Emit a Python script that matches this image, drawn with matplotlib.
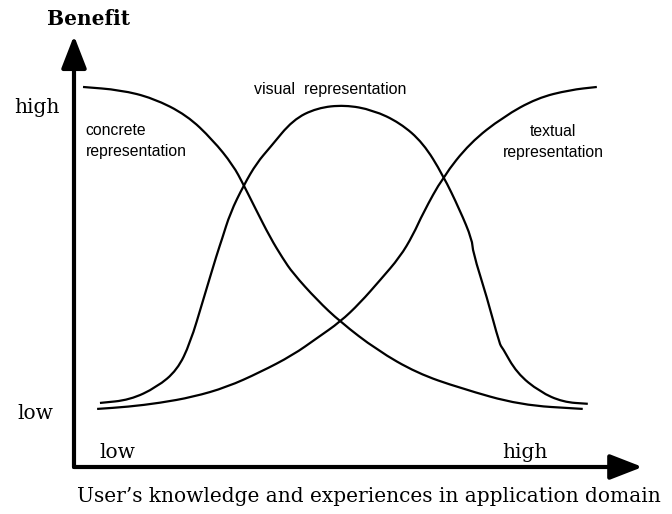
import matplotlib
matplotlib.use("Agg")
from matplotlib import pyplot as plt
from matplotlib.path import Path
from matplotlib.patches import PathPatch

# points (knowledge 0-100, benefit 0-100)
concrete_x = [1.6, 8.2, 14.0, 20.0, 24.6, 28.2, 30.1, 32.1, 34.8, 37.0, 38.8, 43.1,
              47.2, 53.7, 60.8, 68.4, 79.1, 90.2]
concrete_y = [89.0, 88.3, 86.4, 82.4, 76.6, 70.7, 66.0, 60.7, 53.7, 48.9, 45.4, 39.1,
              34.0, 27.4, 22.0, 18.5, 14.5, 13.6]

textual_x = [4.1, 9.6, 15.2, 21.1, 27.1, 33.0, 38.8, 43.1, 47.2, 50.7, 54.3, 57.8,
             60.1, 61.9, 65.4, 70.2, 76.1, 82.1, 87.9, 92.7]
textual_y = [13.6, 14.1, 15.0, 16.4, 18.7, 22.2, 26.2, 30.2, 34.0, 38.4, 43.8, 49.2,
             54.3, 59.5, 67.9, 75.9, 82.0, 86.4, 88.3, 89.0]

visual_x = [4.6, 9.9, 14.7, 18.3, 20.6, 22.9, 25.4, 26.2, 27.7, 30.1, 32.4, 34.8,
            38.8, 43.1, 48.0, 53.0, 57.8, 61.9, 65.4, 68.4, 70.6, 70.7, 73.2, 75.5,
            75.9, 78.5, 82.6, 86.7, 91.1]
visual_y = [15.0, 15.7, 18.7, 22.7, 29.0, 39.1, 50.1, 53.2, 59.5, 66.0, 71.2, 74.9,
            81.3, 84.1, 84.8, 83.6, 80.6, 75.9, 68.4, 60.2, 53.2, 50.4, 39.8, 28.6,
            28.1, 22.0, 17.6, 15.2, 14.8]


def smooth_path(xs, ys):
    # quadratic bezier through the midpoints, read points act as control points
    pts = list(zip(xs, ys))
    mids = [((a[0] + b[0]) / 2, (a[1] + b[1]) / 2) for a, b in zip(pts[:-1], pts[1:])]
    verts = [pts[0], mids[0]]
    codes = [Path.MOVETO, Path.LINETO]
    for p, m in zip(pts[1:-1], mids[1:]):
        verts += [p, m]
        codes += [Path.CURVE3, Path.CURVE3]
    verts.append(pts[-1])
    codes.append(Path.LINETO)
    return Path(verts, codes)


fig = plt.figure(figsize=(6.72, 5.14), dpi=100)
ax = fig.add_axes([74 / 672, 47 / 514, 564 / 672, 427 / 514])
ax.set_xlim(0, 100)
ax.set_ylim(0, 100)
ax.axis("off")

for xs, ys in [(concrete_x, concrete_y), (textual_x, textual_y), (visual_x, visual_y)]:
    ax.add_patch(PathPatch(smooth_path(xs, ys), facecolor="none", edgecolor="black",
                           lw=1.6, capstyle="butt", joinstyle="round"))

arrow = dict(arrowstyle="-|>,head_length=0.9,head_width=0.35", lw=3, color="black",
             mutation_scale=22, shrinkA=0, shrinkB=0)
ax.annotate("", xy=(0, 1.01), xytext=(0, 0), xycoords="axes fraction", arrowprops=arrow)
ax.annotate("", xy=(1.008, 0), xytext=(0, 0), xycoords="axes fraction", arrowprops=arrow)

sans = "Liberation Sans"
serif = "DejaVu Serif"
ax.text(2.1, 76.3, "concrete\nrepresentation", ha="left", va="center", fontsize=11.3,
        family=sans, linespacing=1.55)
ax.text(45.4, 88.5, "visual  representation", ha="center", va="center", fontsize=11.5,
        family=sans)
ax.text(85.0, 76.1, "textual\nrepresentation", ha="center", va="center", fontsize=11.3,
        family=sans, linespacing=1.55)

ax.text(-6.6, 84.3, "high", ha="center", va="center", fontsize=14.5, family=serif)
ax.text(-6.9, 12.6, "low", ha="center", va="center", fontsize=14.5, family=serif)
ax.text(7.6, 3.3, "low", ha="center", va="center", fontsize=14.5, family=serif)
ax.text(80.0, 3.3, "high", ha="center", va="center", fontsize=14.5, family=serif)
ax.text(2.5, 105.0, "Benefit", ha="center", va="center", fontsize=14.5, family=serif,
        weight="bold")
ax.text(52.3, -7.0, "User\u2019s knowledge and experiences in application domain",
        ha="center", va="center", fontsize=14.5, family=serif)

fig.savefig("out.png", dpi=100)
